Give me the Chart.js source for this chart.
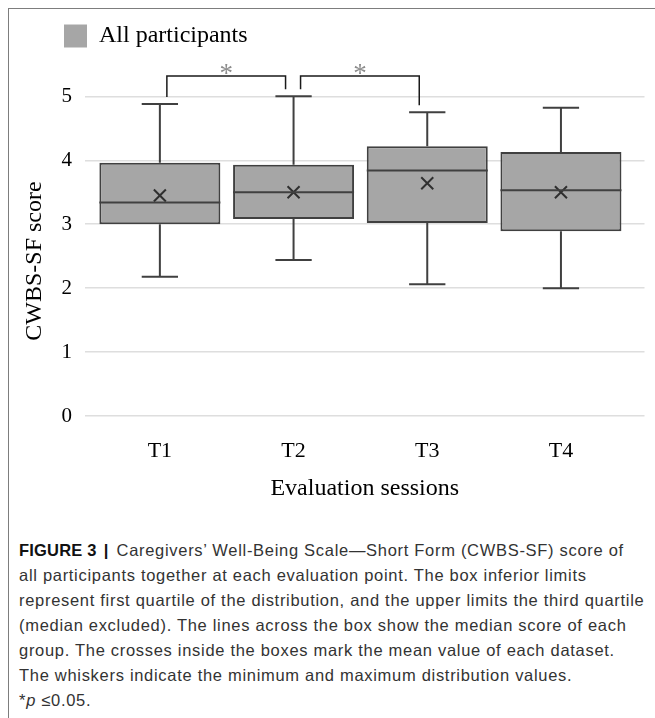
<!DOCTYPE html>
<html>
<head>
<meta charset="utf-8">
<script src="https://cdn.jsdelivr.net/npm/chart.js@4.4.1/dist/chart.umd.min.js"></script>
<style>
  body { margin: 0; background: #fff; width: 655px; height: 718px; overflow: hidden; position: relative; }
  #frame { position: absolute; left: 8px; top: 8px; width: 700px; height: 760px;
           border-top: 1px solid #7d7d7d; border-left: 1px solid #7d7d7d; }
  #myChart { position: absolute; left: 0; top: 0; }
  #caption { position: absolute; left: 19px; top: 538px; white-space: nowrap;
             font-family: "Liberation Sans", Arial, sans-serif; font-size: 16.5px;
             letter-spacing: 0.7px; line-height: 25px; color: #333; }
  #caption b { color: #111; letter-spacing: 0.2px; }
  #caption .bar { display: inline-block; margin: 0 8px 0 7px; }
</style>
</head>
<body>
<div id="frame"></div>
<canvas id="myChart" width="655" height="520"></canvas>
<div id="caption">
  <b>FIGURE 3</b><b class="bar">|</b>Caregivers’ Well-Being Scale—Short Form (CWBS-SF) score of<br>
  all participants together at each evaluation point. The box inferior limits<br>
  represent first quartile of the distribution, and the upper limits the third quartile<br>
  (median excluded). The lines across the box show the median score of each<br>
  group. The crosses inside the boxes mark the mean value of each dataset.<br>
  The whiskers indicate the minimum and maximum distribution values.<br>
  *<i>p</i> ≤0.05.
</div>
<script>
// values
var sessions = ['T1', 'T2', 'T3', 'T4'];
var minVals = [2.18, 2.44, 2.06, 2.00];
var q1Vals = [3.00, 3.08, 3.02, 2.89];
var medianVals = [3.34, 3.50, 3.84, 3.53];
var q3Vals = [3.96, 3.93, 4.22, 4.13];
var maxVals = [4.88, 5.00, 4.75, 4.82];
var meanVals = [3.45, 3.50, 3.64, 3.50];
var sigPairs = [[0, 1], [1, 2]];
var sigLabels = ['*', '*'];
var yTicks = [0, 1, 2, 3, 4, 5];

var lineColor = '#404040';

// medians, whiskers and significance brackets
var boxExtras = {
    id: 'boxExtras',
    afterDatasetsDraw: function(chart) {
        var ctx = chart.ctx;
        var x = chart.scales.x;
        var y = chart.scales.y;
        var boxes = chart.getDatasetMeta(0).data;

        ctx.save();
        ctx.strokeStyle = lineColor;
        ctx.lineWidth = 2;
        boxes.forEach(function(bar, i) {
            var half = bar.width / 2;
            var cap = bar.width * 0.15;
            var cx = bar.x;
            var yMed = y.getPixelForValue(medianVals[i]);
            var yMin = y.getPixelForValue(minVals[i]);
            var yMax = y.getPixelForValue(maxVals[i]);
            ctx.beginPath();
            ctx.moveTo(cx - half, yMed);
            ctx.lineTo(cx + half, yMed);
            ctx.moveTo(cx, y.getPixelForValue(q3Vals[i]));
            ctx.lineTo(cx, yMax);
            ctx.moveTo(cx - cap, yMax);
            ctx.lineTo(cx + cap, yMax);
            ctx.moveTo(cx, y.getPixelForValue(q1Vals[i]));
            ctx.lineTo(cx, yMin);
            ctx.moveTo(cx - cap, yMin);
            ctx.lineTo(cx + cap, yMin);
            ctx.stroke();
        });

        var topY = y.getPixelForValue(Math.max.apply(null, maxVals) + 0.32);
        ctx.strokeStyle = '#1a1a1a';
        ctx.lineWidth = 1.5;
        ctx.font = '27px "Liberation Serif", serif';
        ctx.textAlign = 'center';
        ctx.textBaseline = 'alphabetic';
        sigPairs.forEach(function(pair, k) {
            var xa = x.getPixelForValue(pair[0] + 1) + 7;
            var xb = x.getPixelForValue(pair[1] + 1) - 8;
            var ya = y.getPixelForValue(maxVals[pair[0]]) - 7;
            var yb = y.getPixelForValue(maxVals[pair[1]]) - 7;
            ctx.beginPath();
            ctx.moveTo(xa, ya);
            ctx.lineTo(xa, topY);
            ctx.lineTo(xb, topY);
            ctx.lineTo(xb, yb);
            ctx.stroke();
            ctx.fillStyle = '#8c8c8c';
            ctx.fillText(sigLabels[k], (xa + xb) / 2, topY + 6);
        });
        ctx.restore();
    }
};

function loadChart() {
    var ctx = document.getElementById('myChart').getContext('2d');
    var serif = '"Liberation Serif", "Times New Roman", serif';

    var myChart = new Chart(ctx, {
        type: 'bar',
        data: {
            datasets: [{
                label: 'All participants',
                data: sessions.map(function(s, i) { return {x: i + 1, y: [q1Vals[i], q3Vals[i]]}; }),
                backgroundColor: '#a6a6a6',
                borderColor: lineColor,
                borderWidth: 2,
                borderSkipped: false,
                categoryPercentage: 1,
                barPercentage: 0.905,
                order: 2
            }, {
                type: 'scatter',
                label: 'Mean',
                data: sessions.map(function(s, i) { return {x: i + 1, y: meanVals[i]}; }),
                pointStyle: 'crossRot',
                pointRadius: 8.5,
                borderColor: '#303030',
                borderWidth: 2,
                order: 1
            }]
        },
        options: {
            responsive: false,
            animation: false,
            devicePixelRatio: 1,
            layout: {
                padding: {top: 14, left: 54, right: 8, bottom: 17}
            },
            scales: {
                x: {
                    type: 'linear',
                    offset: false,
                    min: 0.44,
                    max: 4.625,
                    grid: {display: false, drawTicks: false, offset: false},
                    border: {display: false},
                    afterFit: function(scale) { scale.height = 87; },
                    ticks: {
                        stepSize: 1,
                        includeBounds: false,
                        padding: 22,
                        color: '#000',
                        font: {family: serif, size: 22},
                        callback: function(v) { return sessions[v - 1] || ''; }
                    },
                    title: {
                        display: true,
                        text: 'Evaluation sessions',
                        color: '#000',
                        font: {family: serif, size: 24},
                        padding: {top: 0, bottom: 0}
                    }
                },
                y: {
                    min: 0,
                    max: 5.6,
                    afterFit: function(scale) { scale.width = 31; },
                    afterBuildTicks: function(scale) {
                        scale.ticks = yTicks.map(function(v) { return {value: v}; });
                    },
                    grid: {color: '#dedede', lineWidth: 1.5, drawTicks: false},
                    border: {display: false},
                    ticks: {
                        padding: 13,
                        color: '#000',
                        font: {family: serif, size: 21}
                    },
                    title: {
                        display: true,
                        // trailing spaces push the title down to where it sits in the figure
                        text: 'CWBS-SF score' + '\u00a0'.repeat(8),
                        color: '#000',
                        font: {family: serif, size: 24},
                        padding: {top: -34, bottom: 0}
                    }
                }
            },
            plugins: {
                legend: {
                    position: 'top',
                    align: 'start',
                    labels: {
                        boxWidth: 23,
                        boxHeight: 23,
                        padding: 10,
                        color: '#000',
                        font: {family: serif, size: 24},
                        generateLabels: function(chart) {
                            return Chart.defaults.plugins.legend.labels.generateLabels(chart)
                                .filter(function(l) { return l.datasetIndex === 0; })
                                .map(function(l) { l.lineWidth = 0; return l; });
                        }
                    }
                },
                tooltip: {enabled: false}
            }
        },
        plugins: [boxExtras]
    });
}

loadChart();
</script>
</body>
</html>
